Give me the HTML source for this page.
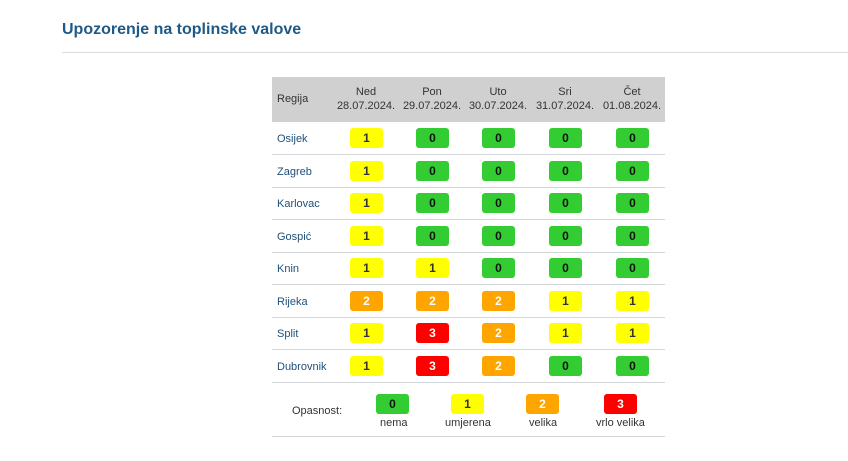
<!DOCTYPE html>
<html><head><meta charset="utf-8"><style>
body{margin:0;width:848px;height:461px;background:#fff;font-family:"Liberation Sans","DejaVu Sans",sans-serif;position:relative;overflow:hidden}
.t{position:absolute;left:62px;top:21px;font-size:16px;font-weight:bold;color:#1f5a87}
.hl{position:absolute;left:62px;top:52px;width:786px;height:1px;background:#dcdcdc}
.hdr{position:absolute;left:272px;top:77px;width:393px;height:45px;background:#d0d0d0}
.a{position:absolute;font-size:11px;color:#333;white-space:nowrap}
.c{text-align:center;width:80px;line-height:14px}
.r{position:absolute;left:277px;font-size:11px;color:#1f4f7a}
.ln{position:absolute;left:272px;width:393px;height:1px;background:#d3d6da}
.b{position:absolute;width:33px;height:20px;border-radius:3px;font-size:12px;font-weight:bold;text-align:center;line-height:20px}
.g{background:#33cc33;color:#111}.y{background:#ffff00;color:#333}.o{background:#ffa500;color:#fff}.rd{background:#ff0000;color:#fff}
</style></head><body>
<div class="t">Upozorenje na toplinske valove</div>
<div class="hl"></div>
<div class="hdr"></div>
<div class="a" style="left:277px;top:93px">Regija</div>
<div class="a c" style="left:326px;top:85px">Ned<br>28.07.2024.</div>
<div class="a c" style="left:392px;top:85px">Pon<br>29.07.2024.</div>
<div class="a c" style="left:458px;top:85px">Uto<br>30.07.2024.</div>
<div class="a c" style="left:525px;top:85px">Sri<br>31.07.2024.</div>
<div class="a c" style="left:592px;top:85px">Čet<br>01.08.2024.</div>
<div id="rows"></div>
<div class="a" style="left:292px;top:405px">Opasnost:</div>
<div class="b g" style="left:376px;top:394px">0</div>
<div class="b y" style="left:451px;top:394px">1</div>
<div class="b o" style="left:526px;top:394px">2</div>
<div class="b rd" style="left:604px;top:394px">3</div>
<div class="a" style="left:380px;top:417px">nema</div>
<div class="a" style="left:445px;top:417px">umjerena</div>
<div class="a" style="left:529px;top:417px">velika</div>
<div class="a" style="left:596px;top:417px">vrlo velika</div>
<div class="ln" style="top:436px"></div>
<script>
(function(){
var names=["Osijek","Zagreb","Karlovac","Gospić","Knin","Rijeka","Split","Dubrovnik"];
var v=["10000","10000","10000","10000","11000","22211","13211","13200"];
var cls={"0":"g","1":"y","2":"o","3":"rd"};
var xs=[350,416,482,549,616];var h="";
for(var i=0;i<8;i++){var tp=122+i*32.5;
h+='<div class="r" style="top:'+(tp+11)+'px">'+names[i]+'</div>';
for(var j=0;j<5;j++){var d=v[i][j];h+='<div class="b '+cls[d]+'" style="left:'+xs[j]+'px;top:'+(tp+6)+'px">'+d+'</div>';}
h+='<div class="ln" style="top:'+Math.round(tp+32)+'px"></div>';}
document.getElementById("rows").innerHTML=h;
})();
</script>
</body></html>
